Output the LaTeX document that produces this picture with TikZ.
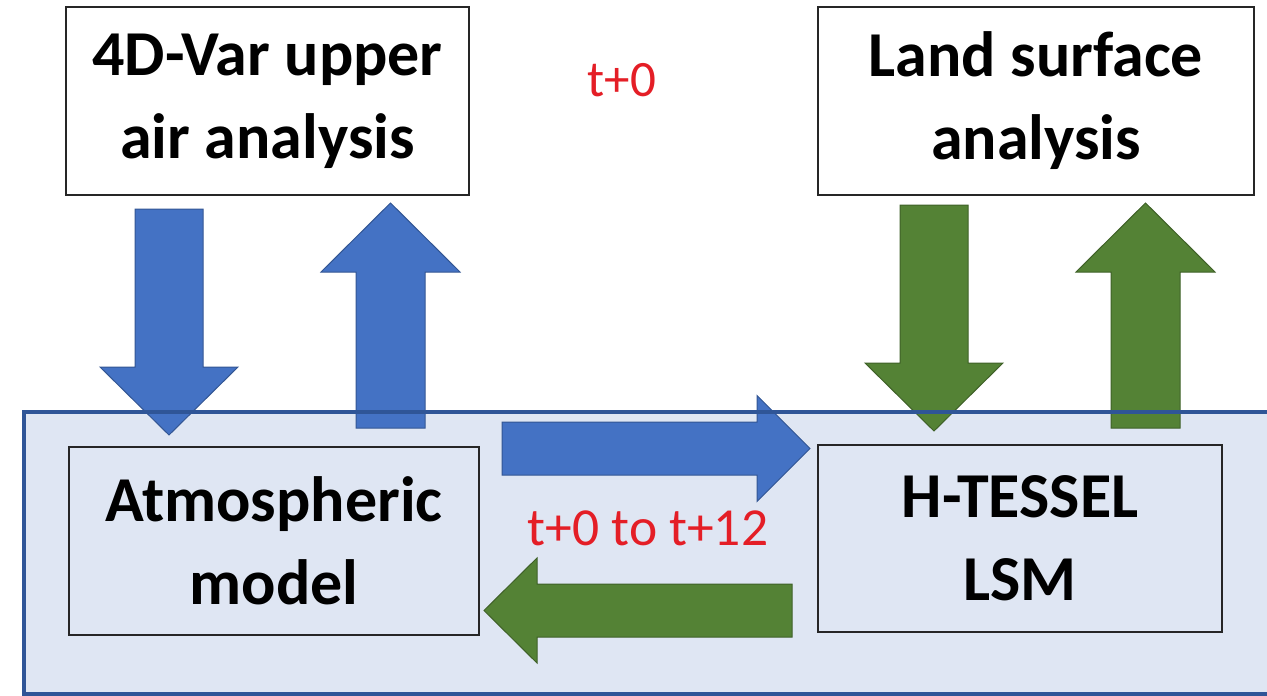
\documentclass[tikz,border=0pt]{standalone}
\usepackage{fontspec}
\setmainfont{Carlito}
\usetikzlibrary{calc}

\definecolor{arrowblue}{HTML}{4472C4}
\definecolor{arrowgreen}{HTML}{548235}
\definecolor{panelfill}{HTML}{DFE6F3}
\definecolor{panelline}{HTML}{2F5597}
\definecolor{boxline}{HTML}{262626}
\definecolor{timered}{HTML}{E41E26}

\tikzset{
  procbox/.style={draw=boxline, line width=1.6pt, align=center, inner sep=0pt,
    font=\fontsize{64}{83}\selectfont\bfseries},
  timelabel/.style={text=timered, inner sep=0pt},
  bluearrow/.style={fill=arrowblue, draw=arrowblue!75!black, line width=1pt, line join=miter},
  greenarrow/.style={fill=arrowgreen, draw=arrowgreen!75!black, line width=1pt, line join=miter},
}

% block arrow: #1 style, #2 tail, #3 tip, #4 shaft half width, #5 head half width, #6 head length
\newcommand\blockarrow[6]{%
  \path (#2) coordinate (ba-s) (#3) coordinate (ba-t)
        ($(ba-t)!#6!(ba-s)$) coordinate (ba-h);
  \path[#1] ($(ba-s)!#4!90:(ba-t)$) -- ($(ba-h)!#4!-90:(ba-s)$)
     -- ($(ba-h)!#5!-90:(ba-s)$) -- (ba-t) -- ($(ba-h)!#5!90:(ba-s)$)
     -- ($(ba-h)!#4!90:(ba-s)$) -- ($(ba-s)!#4!-90:(ba-t)$) -- cycle;
}

\begin{document}
\begin{tikzpicture}[x=1pt,y=-1pt]
  \useasboundingbox (0,0) rectangle (1267,696);
  \clip (0,0) rectangle (1267,696);

  % coupled model panel (fill first, frame drawn over the arrows)
  \fill[panelfill] (24,412) rectangle (1320,694);

  % analysis boxes
  \node[procbox, fill=white, minimum width=403pt, minimum height=188pt]
    (var) at (267.5,101) {4D-Var upper\\air analysis};
  \node[procbox, fill=white, minimum width=436pt, minimum height=188pt]
    (land) at (1036,101) {Land surface\\analysis};

  % model boxes
  \node[procbox, minimum width=410pt, minimum height=188pt]
    (atm) at (274,541) {Atmospheric\\model};
  \node[procbox, minimum width=404pt, minimum height=187pt]
    (lsm) at (1020,538.5) {H-TESSEL\\LSM};

  % arrow end points
  \coordinate (vdn-s) at (169,209);    \coordinate (vdn-t) at (169,435);
  \coordinate (vup-s) at (390.5,428);  \coordinate (vup-t) at (390.5,203);
  \coordinate (ldn-s) at (934,205);    \coordinate (ldn-t) at (934,431);
  \coordinate (lup-s) at (1145.5,428); \coordinate (lup-t) at (1145.5,203);
  \coordinate (fwd-s) at (502,448.5);  \coordinate (fwd-t) at (810,448.5);
  \coordinate (bck-s) at (792,610.5);  \coordinate (bck-t) at (484,610.5);

  \blockarrow{bluearrow}{vdn-s}{vdn-t}{34pt}{69pt}{68pt}
  \blockarrow{bluearrow}{vup-s}{vup-t}{34.5pt}{69.5pt}{69pt}
  \blockarrow{greenarrow}{ldn-s}{ldn-t}{34pt}{69pt}{68pt}
  \blockarrow{greenarrow}{lup-s}{lup-t}{34.5pt}{69.5pt}{69pt}
  \blockarrow{bluearrow}{fwd-s}{fwd-t}{26.5pt}{53pt}{53pt}
  \blockarrow{greenarrow}{bck-s}{bck-t}{26.5pt}{52.5pt}{53pt}

  % panel frame
  \draw[panelline, line width=4pt] (24,412) rectangle (1320,694);

  % time labels
  \node[timelabel, font=\fontsize{51}{60}\selectfont] (t0) at (622,80) {t+0};
  \node[timelabel, font=\fontsize{53.5}{64}\selectfont] (t12) at (648,528) {t+0 to t+12};
\end{tikzpicture}
\end{document}
